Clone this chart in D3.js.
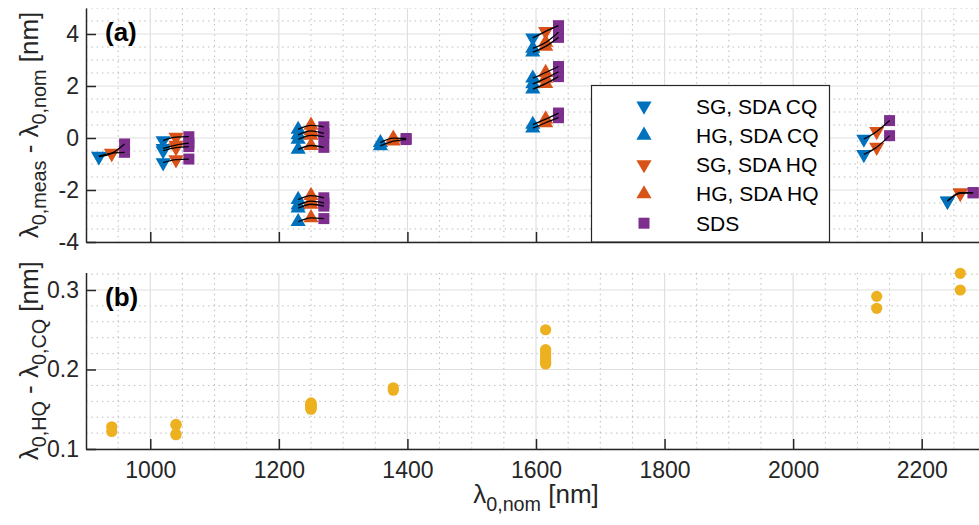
<!DOCTYPE html>
<html>
<head>
<meta charset="utf-8">
<script src="https://cdn.jsdelivr.net/npm/d3@7"></script>
<style>
  html, body { margin: 0; padding: 0; background: #fff; }
  svg { display: block; font-family: "Liberation Sans", Arial, Helvetica, sans-serif; }
</style>
</head>
<body>
<svg id="chart" width="979" height="525"></svg>
<script>
// ---- data: one entry per grating ----
// nominal centre wavelength [nm]
const lambdaNom = [940, 940,
  1040, 1040, 1040, 1040,
  1250, 1250, 1250, 1250, 1250, 1250, 1250, 1250,
  1378, 1378,
  1615, 1615, 1615, 1615, 1615, 1615, 1615, 1615,
  2130, 2130,
  2260, 2260];
// grating kind: SG or HG
const gratingType = ["SG", "SG",
  "SG", "SG", "SG", "SG",
  "HG", "HG", "HG", "HG", "HG", "HG", "HG", "HG",
  "HG", "HG",
  "SG", "HG", "HG", "HG", "HG", "HG", "HG", "HG",
  "SG", "SG",
  "SG", "SG"];
// lambda_meas - lambda_nom from SDA with CQ [nm]
const shiftCQ = [-0.72, -0.70,
  -0.10, -0.40, -0.49, -0.95,
  0.33, 0.12, -0.05, -0.44, -2.37, -2.58, -2.70, -3.22,
  -0.30, -0.18,
  3.85, 3.45, 3.30, 2.30, 2.08, 1.88, 0.52, 0.38,
  -0.04, -0.63,
  -2.42, -2.43];
// lambda_HQ - lambda_CQ [nm]
const diffHQCQ = [0.128, 0.122,
  0.131, 0.130, 0.119, 0.118,
  0.158, 0.156, 0.153, 0.151, 0.157, 0.155, 0.152, 0.150,
  0.177, 0.174,
  0.250, 0.225, 0.222, 0.218, 0.215, 0.212, 0.209, 0.207,
  0.292, 0.277,
  0.321, 0.300];
// lambda_meas - lambda_nom from SDS [nm]
const shiftSDS = [-0.23, -0.55,
  0.05, -0.20, -0.33, -0.81,
  0.43, 0.18, 0.05, -0.36, -2.30, -2.50, -2.62, -3.10,
  -0.06, -0.02,
  4.32, 4.07, 3.87, 2.75, 2.55, 2.36, 0.96, 0.78,
  0.67, 0.09,
  -2.10, -2.11];

// horizontal spread of the three methods around each nominal wavelength [nm]
const methodOffsetCQ = -20, methodOffsetHQ = 0, methodOffsetSDS = 20;

const seriesNames = ["SG, SDA CQ", "HG, SDA CQ", "SG, SDA HQ", "HG, SDA HQ", "SDS"];
const seriesColors = ["#0072BD", "#0072BD", "#D95319", "#D95319", "#7E2F8E"];
const diffColor = "#EDB120";

// ticks
const xTicks = [1000, 1200, 1400, 1600, 1800, 2000, 2200];
const xTickLabels = ["1000", "1200", "1400", "1600", "1800", "2000", "2200"];
const yTicksA = [-4, -2, 0, 2, 4];
const yTickLabelsA = ["-4", "-2", "0", "2", "4"];
const yTicksB = [0.1, 0.2, 0.3];
const yTickLabelsB = ["0.1", "0.2", "0.3"];

// ---- layout ----
const svg = d3.select("#chart");
const axisColor = "#262626";
const tickFont = 23, labelFont = 26, legendFont = 21;

const x = d3.scaleLinear().domain([900, 2300]).range([86, 986]);
const yA = d3.scaleLinear().domain([-4, 5]).range([242, 8]);
const yB = d3.scaleLinear().domain([0.1, 0.322]).range([449, 272.5]);

const rows = d3.range(lambdaNom.length).map(i => ({
  lam: lambdaNom[i],
  type: gratingType[i],
  cq: shiftCQ[i],
  hq: shiftCQ[i] + diffHQCQ[i],
  sds: shiftSDS[i],
  d: diffHQCQ[i]
}));

function drawGrid(yScale, yMajor, yMinorStep, id) {
  const [y0, y1] = yScale.domain();
  const [rBot, rTop] = yScale.range();
  svg.append("clipPath").attr("id", id)
    .append("rect").attr("x", 86).attr("y", rTop).attr("width", 900).attr("height", rBot - rTop);
  const g = svg.append("g").attr("clip-path", `url(#${id})`);
  const xMinor = d3.range(900, 2301, 50).filter(v => !xTicks.includes(v));
  const nMinor = Math.round((y1 - y0) / yMinorStep);
  const yMinor = d3.range(nMinor + 1).map(k => +(y0 + k * yMinorStep).toFixed(4))
    .filter(v => !yMajor.some(m => Math.abs(m - v) < 1e-6));
  const minorStyle = sel => sel.attr("stroke", "#bcbcbc").attr("stroke-width", 1).attr("stroke-dasharray", "1.5,3.8");
  g.selectAll(null).data(xMinor).join("line")
    .attr("x1", d => x(d)).attr("x2", d => x(d)).attr("y1", rTop).attr("y2", rBot).call(minorStyle);
  g.selectAll(null).data(yMinor).join("line")
    .attr("x1", 86).attr("x2", 986).attr("y1", d => yScale(d)).attr("y2", d => yScale(d)).call(minorStyle);
  g.selectAll(null).data(xTicks).join("line")
    .attr("x1", d => x(d)).attr("x2", d => x(d)).attr("y1", rTop).attr("y2", rBot)
    .attr("stroke", "#dfdfdf").attr("stroke-width", 1.2);
  g.selectAll(null).data(yMajor).join("line")
    .attr("x1", 86).attr("x2", 986).attr("y1", d => yScale(d)).attr("y2", d => yScale(d))
    .attr("stroke", "#dfdfdf").attr("stroke-width", 1.2);
}

function styleAxis(g) {
  g.select(".domain").attr("stroke", axisColor).attr("stroke-width", 1.5);
  g.selectAll(".tick line").attr("stroke", axisColor).attr("stroke-width", 1.5);
  g.selectAll(".tick text").attr("fill", axisColor).attr("font-size", tickFont)
    .attr("font-family", "Liberation Sans, Arial, sans-serif");
}

// rich text with TeX-like subscripts
function richText(parent, runs, size) {
  const t = parent.append("text").attr("font-size", size).attr("fill", axisColor);
  const shift = size * 0.32;
  let inSub = false;
  runs.forEach(r => {
    const ts = t.append("tspan").text(r.t);
    if (r.sub) {
      ts.attr("font-size", size * 0.76);
      if (!inSub) ts.attr("dy", shift);
      inSub = true;
    } else {
      if (inSub) ts.attr("dy", -shift);
      inSub = false;
    }
  });
  return t;
}

// ---- panel (a) ----
drawGrid(yA, yTicksA, 0.5, "clipA");
svg.append("g").attr("transform", "translate(86,0)")
  .call(d3.axisLeft(yA).tickValues(yTicksA).tickFormat((d, i) => yTickLabelsA[i])
    .tickSizeInner(-10).tickSizeOuter(0).tickPadding(7))
  .call(styleAxis);
svg.append("g").attr("transform", `translate(0,${yA(-4)})`)
  .call(d3.axisBottom(x).tickValues(xTicks).tickFormat("").tickSizeInner(-10).tickSizeOuter(0))
  .call(styleAxis);

const triUp = d3.symbol().type(d3.symbolTriangle).size(100)();
const square = d3.symbol().type(d3.symbolSquare).size(121)();

function drawMarkers(data, px, py, color, down, path) {
  svg.append("g").selectAll("path").data(data).join("path")
    .attr("d", path)
    .attr("transform", d => `translate(${px(d)},${py(d)})${down ? " rotate(180)" : ""}`)
    .attr("fill", color);
}
const sg = rows.filter(r => r.type === "SG");
const hg = rows.filter(r => r.type === "HG");
drawMarkers(sg, d => x(d.lam + methodOffsetCQ), d => yA(d.cq), seriesColors[0], true, triUp);
drawMarkers(hg, d => x(d.lam + methodOffsetCQ), d => yA(d.cq), seriesColors[1], false, triUp);
drawMarkers(sg, d => x(d.lam + methodOffsetHQ), d => yA(d.hq), seriesColors[2], true, triUp);
drawMarkers(hg, d => x(d.lam + methodOffsetHQ), d => yA(d.hq), seriesColors[3], false, triUp);
drawMarkers(rows, d => x(d.lam + methodOffsetSDS), d => yA(d.sds), seriesColors[4], false, square);

// connect CQ -> HQ -> SDS of each grating
const link = d3.line().x(p => x(p[0])).y(p => yA(p[1])).curve(d3.curveMonotoneX);
svg.append("g").selectAll("path").data(rows).join("path")
  .attr("d", d => link([[d.lam + methodOffsetCQ, d.cq], [d.lam + methodOffsetHQ, d.hq], [d.lam + methodOffsetSDS, d.sds]]))
  .attr("fill", "none").attr("stroke", "#000").attr("stroke-width", 1.3);

svg.append("text").attr("x", 105).attr("y", 41).attr("font-size", 26).attr("font-weight", "bold")
  .attr("fill", "#000").text("(a)");

// legend
const lg = svg.append("g");
lg.append("rect").attr("x", 591.5).attr("y", 85.5).attr("width", 238).attr("height", 156.5)
  .attr("fill", "#fff").attr("stroke", axisColor).attr("stroke-width", 1.2);
seriesNames.forEach((name, i) => {
  const yy = 106 + i * 29.3;
  const isDown = i === 0 || i === 2;
  lg.append("path").attr("d", i === 4 ? square : triUp)
    .attr("transform", `translate(644,${yy})${isDown ? " rotate(180)" : ""}`)
    .attr("fill", seriesColors[i]);
  lg.append("text").attr("x", 696).attr("y", yy).attr("dy", "0.36em")
    .attr("font-size", legendFont).attr("fill", "#000").text(name);
});

// y label (a)
const labA = richText(svg.append("g").attr("transform", `translate(38,${(yA.range()[0] + yA.range()[1]) / 2}) rotate(-90)`),
  [{ t: "λ" }, { t: "0,meas", sub: true }, { t: " - λ" }, { t: "0,nom", sub: true }, { t: " [nm]" }], labelFont);
labA.attr("text-anchor", "middle");

// ---- panel (b) ----
drawGrid(yB, yTicksB, 0.02, "clipB");
svg.append("g").attr("transform", "translate(86,0)")
  .call(d3.axisLeft(yB).tickValues(yTicksB).tickFormat((d, i) => yTickLabelsB[i])
    .tickSizeInner(-10).tickSizeOuter(0).tickPadding(7))
  .call(styleAxis);
svg.append("g").attr("transform", `translate(0,${yB(0.1)})`)
  .call(d3.axisBottom(x).tickValues(xTicks).tickFormat((d, i) => xTickLabels[i])
    .tickSizeInner(-10).tickSizeOuter(0).tickPadding(13))
  .call(styleAxis);

svg.append("g").selectAll("circle").data(rows).join("circle")
  .attr("cx", d => x(d.lam)).attr("cy", d => yB(d.d)).attr("r", 5.6)
  .attr("fill", diffColor);

svg.append("text").attr("x", 105).attr("y", 306).attr("font-size", 26).attr("font-weight", "bold")
  .attr("fill", "#000").text("(b)");

const labB = richText(svg.append("g").attr("transform", `translate(38,${(yB.range()[0] + yB.range()[1]) / 2}) rotate(-90)`),
  [{ t: "λ" }, { t: "0,HQ", sub: true }, { t: " - λ" }, { t: "0,CQ", sub: true }, { t: " [nm]" }], labelFont);
labB.attr("text-anchor", "middle");

// x label
const labX = richText(svg.append("g").attr("transform", `translate(${(x.range()[0] + x.range()[1]) / 2},503)`),
  [{ t: "λ" }, { t: "0,nom", sub: true }, { t: " [nm]" }], labelFont);
labX.attr("text-anchor", "middle");
</script>
</body>
</html>
